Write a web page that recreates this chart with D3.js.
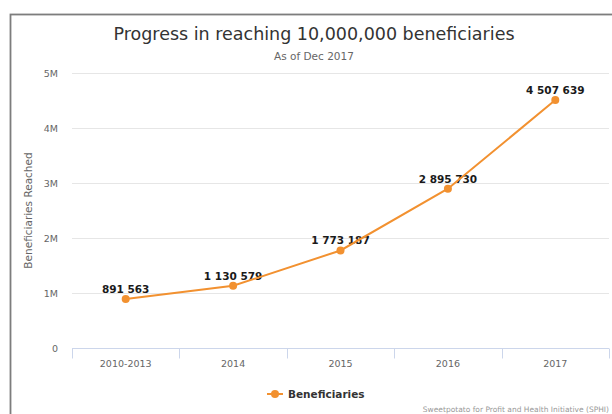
<!DOCTYPE html>
<html>
<head>
<meta charset="utf-8">
<script src="https://cdn.jsdelivr.net/npm/d3@7"></script>
<style>
  body { margin: 0; background: #fff; }
  text { font-family: "DejaVu Sans", sans-serif; }
</style>
</head>
<body>
<div id="vis"></div>
<script>
const categories = ['2010-2013', '2014', '2015', '2016', '2017'];
const beneficiaries = [891563, 1130579, 1773187, 2895730, 4507639];
const yTicks = [0, 1000000, 2000000, 3000000, 4000000, 5000000];

const W = 612, H = 414;
const margin = { top: 73, right: 3, bottom: 66, left: 72 };
const width = W - margin.left - margin.right;
const height = H - margin.top - margin.bottom;
const orange = '#f29130';

const svg = d3.select('#vis')
    .append('svg')
    .attr('width', W)
    .attr('height', H);

// outer frame of the chart container
svg.append('rect')
    .attr('x', 10.5)
    .attr('y', 14.5)
    .attr('width', W + 20)
    .attr('height', H + 20)
    .attr('fill', 'none')
    .attr('stroke', '#7d7d7d')
    .attr('stroke-width', 1.8);

svg.append('text')
    .attr('x', 314)
    .attr('y', 40)
    .attr('text-anchor', 'middle')
    .attr('fill', '#333')
    .style('font-size', '17.5px')
    .text('Progress in reaching 10,000,000 beneficiaries');

svg.append('text')
    .attr('x', 314)
    .attr('y', 60)
    .attr('text-anchor', 'middle')
    .attr('fill', '#666')
    .style('font-size', '10.5px')
    .text('As of Dec 2017');

const g = svg.append('g')
    .attr('transform', `translate(${margin.left},${margin.top})`);

const x = d3.scaleBand()
    .domain(categories)
    .range([0, width]);

const y = d3.scaleLinear()
    .domain([0, 5000000])
    .range([height, 0]);

// gridlines
g.selectAll('.grid')
    .data(yTicks)
    .join('line')
    .attr('class', 'grid')
    .attr('x1', 0)
    .attr('x2', width)
    .attr('y1', d => Math.round(y(d)) + 0.5)
    .attr('y2', d => Math.round(y(d)) + 0.5)
    .attr('stroke', '#e6e6e6');

// y labels
const fmtAxis = d => d === 0 ? '0' : (d / 1e6) + 'M';
g.selectAll('.ylab')
    .data(yTicks)
    .join('text')
    .attr('class', 'ylab')
    .attr('x', -14)
    .attr('y', d => y(d) + 4)
    .attr('text-anchor', 'end')
    .attr('fill', '#666')
    .style('font-size', '9.5px')
    .text(fmtAxis);

svg.append('text')
    .attr('transform', 'rotate(-90)')
    .attr('x', -(margin.top + height / 2))
    .attr('y', 32)
    .attr('text-anchor', 'middle')
    .attr('fill', '#666')
    .style('font-size', '10.5px')
    .text('Beneficiaries Reached');

// x axis
const xAxis = g.append('g')
    .attr('transform', `translate(0,${Math.round(height) + 0.5})`);

xAxis.append('line')
    .attr('x1', 0).attr('x2', width)
    .attr('stroke', '#ccd6eb');

const bounds = categories.map(c => x(c)).concat([width]);
xAxis.selectAll('.tick')
    .data(bounds)
    .join('line')
    .attr('class', 'tick')
    .attr('x1', d => Math.round(d) + 0.5)
    .attr('x2', d => Math.round(d) + 0.5)
    .attr('y1', 0)
    .attr('y2', 10)
    .attr('stroke', '#ccd6eb');

xAxis.selectAll('.xlab')
    .data(categories)
    .join('text')
    .attr('class', 'xlab')
    .attr('x', d => x(d) + x.bandwidth() / 2)
    .attr('y', 18)
    .attr('text-anchor', 'middle')
    .attr('fill', '#666')
    .style('font-size', '9.5px')
    .text(d => d);

// series
const pts = categories.map((c, i) => ({ cat: c, value: beneficiaries[i] }));
const cx = d => x(d.cat) + x.bandwidth() / 2;

// data labels sit under the line, as in the original
const fmtVal = d => d3.format(',')(d).replace(/,/g, ' ');
g.selectAll('.dlab')
    .data(pts)
    .join('text')
    .attr('class', 'dlab')
    .attr('x', cx)
    .attr('y', d => y(d.value) - 6)
    .attr('text-anchor', 'middle')
    .attr('fill', '#1a1a1a')
    .style('font-size', '10.5px')
    .style('font-weight', 'bold')
    .text(d => fmtVal(d.value));

const line = d3.line()
    .x(cx)
    .y(d => y(d.value));

g.append('path')
    .datum(pts)
    .attr('d', line)
    .attr('fill', 'none')
    .attr('stroke', orange)
    .attr('stroke-width', 2);

g.selectAll('.pt')
    .data(pts)
    .join('circle')
    .attr('class', 'pt')
    .attr('cx', cx)
    .attr('cy', d => y(d.value))
    .attr('r', 4)
    .attr('fill', orange);

// legend
const lg = svg.append('g').attr('transform', 'translate(267,394)');
lg.append('line')
    .attr('x1', 0).attr('x2', 16)
    .attr('stroke', orange)
    .attr('stroke-width', 2);
lg.append('circle')
    .attr('cx', 8)
    .attr('r', 4)
    .attr('fill', orange);
lg.append('text')
    .attr('x', 21)
    .attr('y', 4)
    .attr('fill', '#333')
    .style('font-size', '10.5px')
    .style('font-weight', 'bold')
    .text('Beneficiaries');

svg.append('text')
    .attr('x', 609)
    .attr('y', 412)
    .attr('text-anchor', 'end')
    .attr('fill', '#999')
    .style('font-size', '7.5px')
    .text('Sweetpotato for Profit and Health Initiative (SPHI)');
</script>
</body>
</html>
